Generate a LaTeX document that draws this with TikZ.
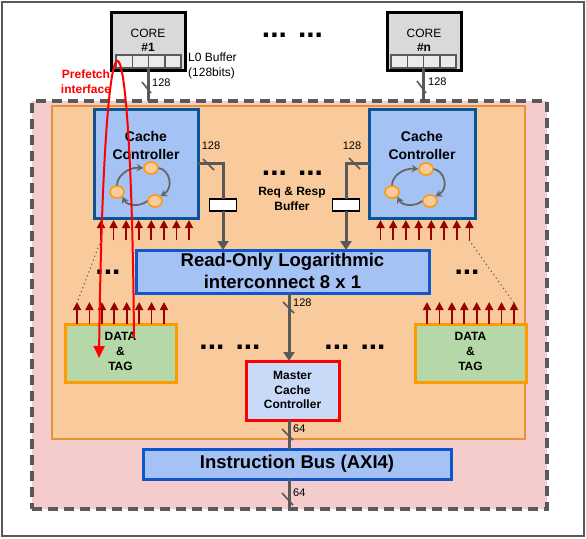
\documentclass[tikz,border=0pt]{standalone}
\usepackage{fontspec}
\setmainfont{Liberation Sans}
\usetikzlibrary{arrows.meta,shapes.geometric,calc}
\definecolor{cgray}{HTML}{595959}
\definecolor{cgray2}{HTML}{666666}
\definecolor{cpink}{HTML}{F4CCCC}
\definecolor{cpeach}{HTML}{F9CB9C}
\definecolor{corg}{HTML}{E69138}
\definecolor{corange}{HTML}{FF9900}
\definecolor{cblue}{HTML}{A4C2F4}
\definecolor{cdblue}{HTML}{0B5394}
\definecolor{cmblue}{HTML}{1155CC}
\definecolor{clblue}{HTML}{C9DAF8}
\definecolor{cgreen}{HTML}{B6D7A8}
\definecolor{cdred}{HTML}{990000}
\definecolor{ccore}{HTML}{D9D9D9}
\definecolor{ccell}{HTML}{EBEBEB}
\begin{document}
\begin{tikzpicture}[x=1pt,y=-1pt,
  box/.style={rectangle, inner sep=0pt, outer sep=0pt},
  corebox/.style={box, draw=black, fill=ccore, line width=3pt, minimum width=74pt, minimum height=58pt},
  cellbox/.style={box, draw=cgray, fill=ccell, line width=1.5pt, minimum width=16.25pt, minimum height=13pt},
  ccbox/.style={box, draw=cdblue, fill=cblue, line width=3pt, minimum height=109pt},
  bluebar/.style={box, draw=cmblue, fill=cblue, line width=3pt},
  dtbox/.style={box, draw=corange, fill=cgreen, line width=3pt, minimum width=111pt, minimum height=58pt},
  bufbox/.style={box, draw=black, fill=white, line width=1.5pt, minimum width=27pt, minimum height=12pt},
  blob/.style={ellipse, draw=corange, fill=cpeach, line width=1.5pt, minimum width=14pt, minimum height=12pt, inner sep=0pt},
  gline/.style={draw=cgray, line width=3pt},
  garrow/.style={gline, -{Triangle[width=11pt,length=9pt]}},
  tickline/.style={draw=cgray, line width=1.6pt},
  cyc/.style={draw=cgray2, line width=1.8pt, -{Stealth[width=7.5pt,length=6.5pt]}},
  redarr/.style={draw=cdred, line width=1.8pt, -{Triangle[width=8pt,length=8pt]}},
  lbl/.style={font=\fontsize{11}{11}\selectfont, inner sep=0pt},
  reg/.style={font=\fontsize{12}{15}\selectfont, inner sep=0pt, align=center},
  bld/.style={font=\fontsize{12}{15}\selectfont\bfseries, inner sep=0pt, align=center},
  dotsty/.style={font=\fontsize{30}{30}\selectfont\bfseries, anchor=base, inner sep=0pt},
  dotline/.style={draw=cgray, line width=1pt, dash pattern=on 1.2pt off 3pt}
]
\useasboundingbox (0,0) rectangle (586,538);

% frames
\node[box, draw=cgray, line width=2.5pt, minimum width=582pt, minimum height=534pt] (frame) at (293,269) {};
\node[box, draw=cgray, fill=cpink, line width=3.5pt, dash pattern=on 10pt off 6pt, minimum width=515pt, minimum height=408pt] (chip) at (289.5,305) {};
\node[box, draw=corg, fill=cpeach, line width=2.5pt, minimum width=473pt, minimum height=333pt] (cluster) at (288.5,272.5) {};

% cores
\node[corebox] (core1) at (148,41) {};
\node[reg] (core1t) at (148,33) {CORE};
\node[bld] (core1n) at (148,47) {\#1};
\foreach \i in {0,...,3} \node[cellbox] (c1b\i) at ({116+16.25*(\i+0.5)},61.5) {};
\node[corebox] (coren) at (424,41) {};
\node[reg] (corent) at (424,33) {CORE};
\node[bld] (corenn) at (424,47) {\#n};
\foreach \i in {0,...,3} \node[cellbox] (cnb\i) at ({391+16.25*(\i+0.5)},61.5) {};
\node[reg, anchor=west, align=left] (l0) at (188,66) {L0 Buffer\\(128bits)};
\node[dotsty] (dtop) at (292.5,37) {... ...};

% core links
\draw[gline] (c1b1.south east) -- (c1b1.south east |- chip.north);
\draw[tickline] (142,82) -- (151,93);
\node[lbl, anchor=west] (lc1) at (152,83) {128};
\draw[gline] (cnb1.south east) -- (cnb1.south east |- chip.north);
\draw[tickline] (417,81) -- (426,93);
\node[lbl, anchor=west] (lcn) at (428,82) {128};

% cache controllers
\node[ccbox, minimum width=104pt] (cc1) at (146,163.5) {};
\node[font=\fontsize{14}{18}\selectfont\bfseries, align=center, inner sep=0pt] (cc1t) at (146,145) {Cache\\Controller};
\node[blob] (k1a) at (151,168) {};
\node[blob] (k1b) at (117,192) {};
\node[blob] (k1c) at (155,201) {};
\draw[cyc] (k1b.north) .. controls (117,176) and (128,167) .. (k1a.west);
\draw[cyc] (k1a.east) .. controls (170,170) and (174,188) .. (k1c.north east);
\draw[cyc] (k1c.west) .. controls (140,207) and (127,206) .. (k1b.south east);

\node[ccbox, minimum width=106pt] (cc2) at (422,163.5) {};
\node[font=\fontsize{14}{18}\selectfont\bfseries, align=center, inner sep=0pt] (cc2t) at (422,145) {Cache\\Controller};
\node[blob] (k2a) at (426,169) {};
\node[blob] (k2b) at (392,192) {};
\node[blob] (k2c) at (430,201) {};
\draw[cyc] (k2b.north) .. controls (392,176) and (403,168) .. (k2a.west);
\draw[cyc] (k2a.east) .. controls (445,171) and (449,189) .. (k2c.north east);
\draw[cyc] (k2c.west) .. controls (415,207) and (402,206) .. (k2b.south east);

% interconnect
\node[bluebar, minimum width=293pt, minimum height=43pt] (ic) at (282.5,271.5) {};
\node[font=\fontsize{18.5}{22}\selectfont\bfseries, align=center, inner sep=0pt] (ict) at (282.5,271) {Read-Only Logarithmic\\interconnect 8 x 1};

% req/resp buffers
\node[bufbox] (rb1) at (223,205) {};
\node[bufbox] (rb2) at (346,205) {};
\draw[gline] (cc1.east) -| (rb1.north);
\draw[garrow] (rb1.south) -- (rb1.south |- ic.north);
\draw[gline] (cc2.west) -| (rb2.north);
\draw[garrow] (rb2.south) -- (rb2.south |- ic.north);
\draw[tickline] (203,159) -- (214,170);
\node[lbl] (lr1) at (211,146) {128};
\draw[tickline] (349,158) -- (360,169);
\node[lbl] (lr2) at (352,146) {128};
\node[dotsty] (dmid) at (292.5,175) {... ...};
\node[bld] (rrt) at (292,199) {Req \& Resp\\Buffer};

% data & tag
\node[dtbox] (dt1) at (120.5,353) {};
\node[bld] (dt1t) at (120.5,351) {DATA\\\&\\TAG};
\node[dtbox] (dt2) at (470.5,353) {};
\node[bld] (dt2t) at (470.5,351) {DATA\\\&\\TAG};

% red arrow rows
\foreach \i in {0,...,7} {
  \draw[redarr] ({101+12.57*\i},240) -- ({101+12.57*\i},220);
  \draw[redarr] ({380.5+12.7*\i},240) -- ({380.5+12.7*\i},220);
  \draw[redarr] ({77+12.43*\i},324) -- ({77+12.43*\i},302);
  \draw[redarr] ({427+12.43*\i},324) -- ({427+12.43*\i},302);
}
\draw[dotline] (101,240) -- (77,303);
\draw[dotline] (469,240) -- (514,303);
\node[dotsty] (dl) at (108,274) {...};
\node[dotsty] (dr) at (467,274) {...};
\node[dotsty] (dbl) at (230,349) {... ...};
\node[dotsty] (dbr) at (355,349) {... ...};

% master and bus
\coordinate (vx) at (289,0);
\node[box, draw=red, fill=clblue, line width=3pt, minimum width=93pt, minimum height=59pt] (mc) at (292.5,390.5) {};
\node[bld, font=\fontsize{12}{14.5}\selectfont\bfseries] (mct) at (292.5,390) {Master\\Cache\\Controller};
\node[bluebar, minimum width=308pt, minimum height=30pt] (ib) at (297,464) {};
\node[font=\fontsize{18.5}{22}\selectfont\bfseries, inner sep=0pt] (ibt) at (297,464) {Instruction Bus (AXI4)};
\draw[garrow] (ic.south -| vx) -- (mc.north -| vx);
\draw[tickline] (283,302) -- (294,313);
\node[lbl, anchor=west] (lic) at (293,303) {128};
\draw[gline] (mc.south -| vx) -- (ib.north -| vx);
\draw[tickline] (282,429) -- (293,440);
\node[lbl, anchor=west] (lmc) at (293,429) {64};
\draw[gline] (ib.south -| vx) -- (chip.south -| vx);
\draw[tickline] (282,493) -- (293,505);
\node[lbl, anchor=west] (lib) at (293,493) {64};

% prefetch interface
\coordinate (pfs) at (134,338);
\coordinate (pfe) at (99,358);
\draw[red, line width=2pt, -{Triangle[width=11pt,length=12pt]}] (pfs) .. controls (131,-33) and (104,-33) .. (pfe);
\node[font=\fontsize{12}{15}\selectfont\bfseries, text=red, align=center, inner sep=0pt] (pft) at (86,81.5) {Prefetch\\interface};
\end{tikzpicture}
\end{document}
